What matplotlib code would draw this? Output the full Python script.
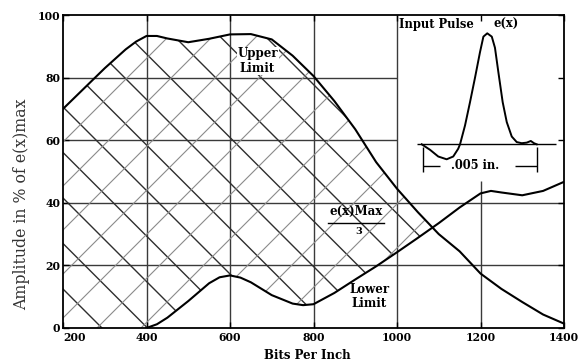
import numpy as np
import matplotlib
matplotlib.use("Agg")
import matplotlib.pyplot as plt
from matplotlib.collections import LineCollection
from matplotlib.transforms import IdentityTransform

# ---------------- data ----------------
bits_upper = [200, 250, 300, 350, 375, 400, 425, 450, 500, 550, 600, 650, 700, 750, 800,
              850, 900, 950, 1000, 1050, 1100, 1150, 1200, 1250, 1300, 1350, 1400]
upper_limit = [70, 76.5, 83, 89, 91.5, 93.3, 93.3, 92.5, 91.3, 92.4, 93.8, 93.9, 92.2, 87, 80.5,
               72.5, 63.5, 53, 44.5, 37, 30, 24.5, 17.4, 12.5, 8.3, 4.3, 1.4]

bits_lower = [400, 425, 450, 500, 550, 575, 600, 625, 650, 700, 750, 775, 800, 850, 900,
              950, 1000, 1050, 1100, 1150, 1200, 1225, 1250, 1300, 1350, 1400]
lower_limit = [0, 1.2, 3.3, 8.6, 14.3, 16.2, 16.8, 16.1, 14.6, 10.5, 7.8, 7.3, 7.6, 11.2, 15.5,
               19.7, 24.2, 28.8, 33.5, 38.5, 43, 43.8, 43.3, 42.4, 43.8, 46.7]

x_ticks = [200, 400, 600, 800, 1000, 1200, 1400]
y_ticks = [0, 20, 40, 60, 80, 100]

# input pulse (position in mils, amplitude in % of max)
pulse_pos = [-0.07, 0.3, 0.66, 1.03, 1.32, 1.54, 1.62, 1.84, 2.06, 2.28, 2.5, 2.65,
             2.82, 3.02, 3.16, 3.31, 3.5, 3.68, 3.9, 4.12, 4.34, 4.56, 4.74, 4.88, 5.0]
pulse_amp = [0, -5, -11, -13.5, -11, -4, 0, 17, 38, 60, 83, 97,
             100, 97, 87, 65, 38, 20, 7, 2, 1, 1.5, 3, 1, 0]
pulse_width_mils = 5

# ---------------- figure ----------------
W, H = 585, 362
plt.rcParams["font.family"] = ["DejaVu Serif"]
plt.rcParams["font.weight"] = "bold"
fig = plt.figure(figsize=(W / 100, H / 100), dpi=100)
fig.patch.set_facecolor("white")
ax = fig.add_axes([63 / W, 1 - 328 / H, 501 / W, 313 / H])
ax.set_xlim(200, 1400)
ax.set_ylim(0, 100)

GRID_C = "#3a3a3a"
INSET_X0, INSET_Y0 = 1000, 47
for xv in x_ticks[1:-1]:
    top = INSET_Y0 if xv > INSET_X0 else 100
    ax.vlines(xv, 0, top, color=GRID_C, lw=1.0, zorder=1)
for yv in y_ticks[1:-1]:
    right = INSET_X0 if yv > INSET_Y0 else 1400
    ax.hlines(yv, 200, right, color=GRID_C, lw=1.0, zorder=1)

# hatched region between the limits
xs = np.union1d(bits_upper, bits_lower)
up = np.interp(xs, bits_upper, upper_limit)
lo = np.interp(xs, bits_lower, lower_limit, left=0)
region = ax.fill_between(xs, lo, up, where=up >= lo, interpolate=True,
                         facecolor="none", edgecolor="none")
clip_path = region.get_paths()[0]

seg1 = [[(0, k), (700, k - 700)] for k in 318 + 45.5 * np.arange(-8, 16)]
seg2 = [[(0, m), (700, m + 700)] for m in 69 + 44 * np.arange(-16, 8)]
lc1 = LineCollection(seg1, colors="#2e2e2e", linewidths=1.0,
                     transform=IdentityTransform(), zorder=2)
lc2 = LineCollection(seg2, colors="#8a8a8a", linewidths=0.8,
                     transform=IdentityTransform(), zorder=2)
for lc in (lc1, lc2):
    ax.add_collection(lc, autolim=False)
    lc.set_clip_path(clip_path, ax.transData)

ax.plot(bits_upper, upper_limit, color="black", lw=1.5, zorder=3)
ax.plot(bits_lower, lower_limit, color="black", lw=1.5, zorder=3)

# ticks & spines
ax.set_xticks(x_ticks)
ax.set_yticks(y_ticks)
ax.tick_params(direction="in", length=4, width=1, top=True, right=True,
               labelsize=7.8, pad=3, colors="black")
for lab in ax.get_xticklabels() + ax.get_yticklabels():
    lab.set_fontweight("bold")
ax.get_xticklabels()[0].set_horizontalalignment("left")
ax.tick_params(axis="y", pad=2)
for sp in ax.spines.values():
    sp.set_linewidth(1.3)
    sp.set_color("black")

ax.set_xlabel("Bits Per Inch", fontsize=8.5, fontweight="bold")
ax.xaxis.set_label_coords(0.487, -0.068)
fig.text(22 / W, 1 - 204 / H, "Amplitude in % of e(x)max", rotation=90,
         ha="center", va="center", fontsize=11.3, fontweight="normal", color="#333333")

# annotations
ax.text(666, 85.3, "Upper\nLimit", ha="center", va="center", fontsize=8.5,
        multialignment="center", linespacing=1.15, zorder=4,
        bbox=dict(facecolor="white", edgecolor="none", pad=0.5))
ax.text(934, 10.1, "Lower\nLimit", ha="center", va="center", fontsize=8.5,
        multialignment="center", linespacing=1.15, zorder=4)
ax.text(901, 35.2, "e(x)Max", ha="center", va="bottom", fontsize=8.5, zorder=4)
ax.plot([834, 968], [33.5, 33.5], color="black", lw=1.0, zorder=4)
ax.text(908, 32.2, "3", ha="center", va="top", fontsize=7, zorder=4)

ax.text(1004, 97.1, "Input Pulse", ha="left", va="center", fontsize=8.3, zorder=4)
ax.text(1232, 97.1, "e(x)", ha="left", va="center", fontsize=8.3, zorder=4)

# inset pulse
ax_in = fig.add_axes([410 / W, 1 - 180 / H, 155 / W, 165 / H])
ax_in.set_xlim(-0.586, 6.248)
ax_in.set_ylim(-32.16, 116.5)
ax_in.axis("off")
ax_in.hlines(0, -0.29, 5.85, color="black", lw=1.0)
ax_in.plot(pulse_pos, pulse_amp, color="black", lw=1.4)
dim_y = -19.5
for xe in (0, pulse_width_mils):
    ax_in.vlines(xe, -2, -24.7, color="black", lw=1.0)
gap = (0.148 * pulse_width_mils, 0.808 * pulse_width_mils)
ax_in.hlines(dim_y, 0, gap[0], color="black", lw=1.0)
ax_in.hlines(dim_y, gap[1], pulse_width_mils, color="black", lw=1.0)
ax_in.text(pulse_width_mils * 0.46, dim_y, ".005 in.", ha="center", va="center",
           fontsize=8.3)

fig.savefig("out.png", dpi=100, facecolor="white")
